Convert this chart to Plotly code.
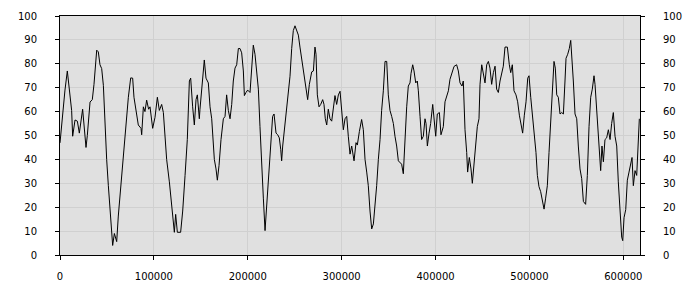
import plotly.graph_objects as go

x_vals = [0, 3600, 5300, 7800, 9900, 12400, 13500, 16000, 18500, 20600, 24100, 25600, 27700, 29100,
          32000, 34400, 36200, 39100, 40800, 42600, 44400, 46200, 47900, 49700, 51500, 53300, 55000,
          56100, 57900, 60400, 62100, 64600, 67500, 69900, 72800, 75300, 77400, 78800, 81700, 83400,
          86300, 87000, 88800, 90500, 92300, 94400, 95900, 98700, 101200, 103700, 105800, 108300,
          110100, 111800, 113600, 116500, 118900, 120700, 121800, 123200, 125000, 128500, 130700,
          133200, 135600, 137800, 139200, 141300, 143100, 144900, 146300, 148400,
          149100, 153700, 155500, 158000, 159800, 161600, 163300, 164400, 166200, 167600, 169400,
          171500, 174000, 175800, 177500, 179300, 181100, 182900, 184600, 186400, 188200, 190000,
          191700, 193500, 195300, 196400, 198100, 199900, 202400, 204200, 205900, 207700, 209500,
          211300, 213000, 214800, 216600, 218400, 220100, 221900, 223700, 225500, 226500, 228000,
          230100, 231900, 233600, 235100, 236100, 237200, 238600, 240700, 243200, 245000, 246800,
          248500, 250300, 252100, 253900, 255600, 257400, 259200, 261000, 262800, 263800, 265600,
          268100, 269900, 271600, 272700, 274100, 275900, 277700, 279800, 281200, 282600, 284100,
          285800, 287600, 289400, 291200, 292900, 294700, 296500,
          298300, 300000, 301800, 303600, 305400, 307100, 308900, 310700, 313200, 315300, 316700,
          318900, 321300, 323100, 324900, 326700, 328400, 330200, 332000, 333800, 335500, 337300,
          339100, 340900, 342600, 344400, 346200, 348000, 349700, 351500, 353300, 355100, 356800,
          358600, 360400, 362200, 363900, 365700, 367500, 369300, 371000, 372800, 373900, 375700,
          377100, 378900, 380600, 381700, 383500, 385200, 387000, 388800, 389900, 391300, 393100,
          394800, 397000, 398700, 400200, 401900, 404100, 405800, 408300, 410100, 411900, 413700,
          415400, 417200, 419700, 422500, 424300, 426100, 428200, 429600, 431400, 433200, 434200,
          436000, 437800, 439200, 441400, 443100, 444500, 446300,
          447400, 449200, 450900, 452700, 454500, 456300, 458000, 459800, 461600, 463400, 465100,
          466900, 468700, 470500, 472200, 474000, 476500, 478600, 480100, 481800, 483600, 485700,
          487500, 489300, 491100, 492800, 494600, 496400, 498200, 499600, 501400, 503500, 505300,
          507000, 508500, 510200, 512000, 513800, 515600, 517300, 519100, 520900, 522700, 524400,
          526200, 527600, 529100, 530800, 532600, 534400, 536200, 537900, 539000, 540800, 542500,
          544000, 545400, 546800, 548600, 550400, 552100, 553900, 555700, 557500, 559900, 561700,
          563500, 565300, 567000, 568800, 569900, 571700, 573400, 574500, 575900, 577300, 578800,
          580500, 582300, 584100, 585900, 587600, 589400, 591200, 593000, 594700, 596500, 598300,
          599400, 600800, 602600, 604300, 606100, 607900, 609300, 610700, 612500, 614300, 615700,
          617100]

y_vals = [46.9, 63, 69, 77, 69, 60.5, 49.7, 56.5, 56, 51, 61, 55, 45, 50,
          64, 65, 71.4, 85.7, 85, 79.6, 78, 71, 55, 40, 29, 18.4, 7.5,
          4, 9, 5.6, 16.3, 27.9, 42.9, 56, 66, 74.1, 74, 66, 59, 54.4,
          53, 50.3, 62, 60, 64.8, 61, 62, 53, 57.6, 66, 60.5, 63,
          59.6, 51, 40, 30.6, 21, 15.6, 9.5, 17, 9.5, 9.5, 18.4,
          33.3, 48.3, 72.8, 74, 62, 54.4, 65, 67, 57,
          61, 81.6, 74, 72, 62, 57, 48.3, 40, 36, 31.3, 37.5,
          48.3, 57, 58, 67, 60.5, 57, 63, 72.8, 78.2, 79.6, 86.4,
          86.4, 84.6, 77, 66.7, 68, 69, 68, 81, 87.8, 84, 77,
          69.4, 53.7, 36, 23.8, 10.2, 20.4, 29, 38.8, 53.7, 58, 59,
          51, 50.3, 49, 44.2, 39.4, 45.6, 51, 57, 68, 74.8, 86.4,
          93.9, 95.9, 93.9, 92, 87, 82.3, 77.5, 73.5, 67, 65, 71.4,
          76.6, 77, 87, 84, 67, 62, 63, 65, 63, 57, 54.4,
          61, 57, 56, 62, 66.7, 63, 67,
          68.5, 62, 52.4, 57, 58, 49.7, 42.2, 45.6, 39.4, 47, 46,
          51.7, 56.7, 52.4, 40, 34.7, 29, 18.4, 10.9, 13, 19.7, 29,
          40, 48.3, 60.5, 68.7, 81, 81, 67, 60.5, 58, 55, 49.7,
          45.6, 39.4, 38.8, 38, 34, 49.7, 62, 70.7, 72, 76, 79.6,
          77, 72, 72.8, 68.7, 58, 48.3, 49.7, 57, 55, 45.6, 51,
          55, 63, 53.7, 49.7, 59, 59.6, 50.3, 53.7, 64.1, 67, 68.7,
          73.5, 75.5, 78.9, 79.6, 77, 72, 70.7, 72.8, 52.4, 42.9, 34.7,
          40.8, 36, 30, 40, 45.6, 53.7, 57,
          71.4, 79.6, 75.5, 72, 79.6, 81, 78.2, 71.4, 76.3, 79, 69.4,
          68, 72.8, 76.3, 79, 87, 87, 79.6, 76.3, 79.6, 68.7, 67,
          64.1, 58.5, 55, 51, 58.5, 64.1, 74, 75, 66, 58, 51,
          42.9, 33.3, 28.6, 26.5, 21.8, 19.2, 23.8, 29, 42.9, 57, 69.4,
          81, 78.2, 67, 66, 59, 59.6, 59, 72.8, 82.3, 84, 86.4,
          89.8, 78.2, 72.8, 59, 57, 45.6, 36, 32, 22.4, 21.2, 33.3,
          53.7, 66, 69.4, 75, 71.4, 59, 48.3, 41.5, 35.3, 45.6, 39,
          48.3, 49, 52.4, 48.3, 55, 59.6, 49.7, 45.6, 30.6, 21, 7.5,
          6, 15.6, 19, 31.3, 34.7, 38.8, 40.8, 29, 35.3, 33.3, 47,
          57]

x_ticks = [0, 100000, 200000, 300000, 400000, 500000, 600000]
y_ticks = [0, 10, 20, 30, 40, 50, 60, 70, 80, 90, 100]

font = dict(family="DejaVu Sans", size=10, color="#000000")

fig = go.Figure()
fig.add_trace(go.Scatter(x=x_vals, y=y_vals, mode="lines",
                         line=dict(color="#000000", width=1),
                         showlegend=False, hoverinfo="skip"))
fig.add_trace(go.Scatter(x=x_vals, y=y_vals, mode="lines", yaxis="y2",
                         line=dict(color="rgba(0,0,0,0)", width=0),
                         showlegend=False, hoverinfo="skip"))

fig.update_layout(
    width=700, height=300,
    margin=dict(l=60, r=60, t=10, b=45),
    paper_bgcolor="#ffffff",
    plot_bgcolor="#e0e0e0",
    font=font,
    xaxis=dict(range=[0, 617800], tickvals=x_ticks, ticktext=[str(v) for v in x_ticks],
               showgrid=True, gridcolor="#d0d0d0", gridwidth=1,
               zeroline=False, showline=True, linecolor="#000000", linewidth=1,
               mirror=True, ticks="outside", ticklen=4, tickcolor="#000000",
               ticklabelstandoff=8, tickfont=font),
    yaxis=dict(range=[0, 100], tickvals=y_ticks,
               showgrid=True, gridcolor="#d0d0d0", gridwidth=1,
               zeroline=False, showline=True, linecolor="#000000", linewidth=1,
               mirror=True, ticks="outside", ticklen=4, tickcolor="#000000",
               ticklabelstandoff=16, tickfont=font),
    yaxis2=dict(range=[0, 100], tickvals=y_ticks, overlaying="y", side="right",
                showgrid=False, zeroline=False, showline=False,
                ticks="outside", ticklen=4, tickcolor="#000000",
                ticklabelstandoff=16, tickfont=font),
)

fig.write_html("out.html")
